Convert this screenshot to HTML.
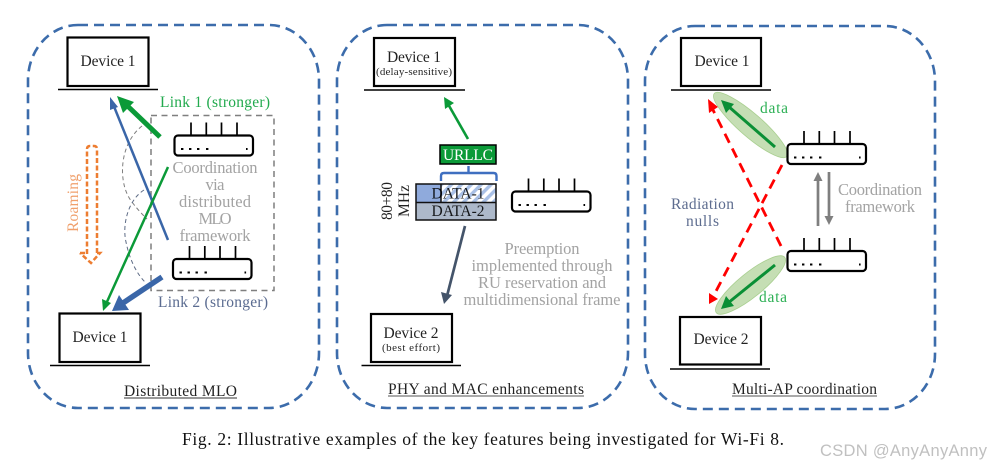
<!DOCTYPE html>
<html><head><meta charset="utf-8">
<style>
html,body{margin:0;padding:0;background:#fff;width:991px;height:467px;overflow:hidden}
svg{display:block}
text{font-family:"Liberation Serif",serif;text-anchor:middle;font-size:15.5px}
.g{fill:#a3a3a3;font-size:16.5px}
.b{fill:#000;fill-opacity:.87}
.s{font-size:11px}
.dev{fill:#fff;stroke:#000;stroke-width:2.2}
.base{stroke:#000;stroke-width:1.5}
.panel{fill:none;stroke:#3c6cab;stroke-width:2.6;stroke-dasharray:10 6}
</style></head><body>
<svg width="991" height="467" viewBox="0 0 991 467" xmlns="http://www.w3.org/2000/svg">
<defs>
<pattern id="h" width="7" height="7" patternUnits="userSpaceOnUse" patternTransform="rotate(-45)">
<rect width="7" height="7" fill="#fff"/><rect width="7" height="3.4" fill="#a9c0e6"/>
</pattern>
<g id="r">
<path d="M17 0V13M32.300 0V13M47.500 0V13M63 0V13" stroke="#000" stroke-width="1.7" fill="none"/>
<rect x="0.500" y="13" width="78.500" height="20" rx="3.500" fill="#fff" stroke="#000" stroke-width="2.200"/>
<path d="M7 26.500h2.400M15 26.500h2.400M23 26.500h2.400M32 26.500h2.400M72 26.500h1.600" stroke="#000" stroke-width="2"/>
</g>
</defs>

<!-- panels -->
<rect class="panel" x="28" y="25" width="291" height="383" rx="50" ry="55"/>
<rect class="panel" x="337" y="25" width="291" height="383" rx="50" ry="55"/>
<rect class="panel" x="645" y="26" width="290" height="383" rx="50" ry="55"/>

<!-- panel 1 -->
<rect class="dev" x="67.500" y="37.500" width="81" height="48.500"/>
<line class="base" x1="58" y1="89.500" x2="158" y2="89.500"/>
<text class="b" x="108" y="66" textLength="55">Device 1</text>
<rect class="dev" x="59.500" y="313.500" width="81" height="48.500"/>
<line class="base" x1="50" y1="365.500" x2="150" y2="365.500"/>
<text class="b" x="100" y="342" textLength="55">Device 1</text>

<rect x="151" y="115.500" width="123" height="175" fill="none" stroke="#7f7f7f" stroke-width="1.500" stroke-dasharray="6 4.500"/>
<path d="M142 126C118 145 118 185 132 202C138 210 142 214 147 219" fill="none" stroke="#7f7f7f" stroke-width="1" stroke-dasharray="4 3"/>
<path d="M144 190C128 200 122 225 126 242C130 262 138 275 145 282" fill="none" stroke="#5d6b85" stroke-width="1" stroke-dasharray="4 3"/>

<use href="#r" x="174" y="122.500"/>
<use href="#r" x="172.500" y="246"/>

<!-- arrows P1 -->
<path d="M160 137L126 104.500" stroke="#0b9a38" stroke-width="5" fill="none"/>
<path d="M117 96L134 102L123 113Z" fill="#0b9a38"/>
<path d="M168 240L113 104" stroke="#3a66a8" stroke-width="2.500" fill="none"/>
<path d="M110 97L118 107L110 110Z" fill="#3a66a8"/>
<path d="M168 167L106 304" stroke="#0b9a38" stroke-width="2.500" fill="none"/>
<path d="M103 311L102 299L111 303Z" fill="#0b9a38"/>
<path d="M162 277L123 303" stroke="#3a66a8" stroke-width="5.500" fill="none"/>
<path d="M112 311L119 295L129 310Z" fill="#3a66a8"/>

<path d="M87 254V149Q87 146 90 146H94Q97 146 97 149V254" fill="none" stroke="#ed7d31" stroke-width="2.500" stroke-dasharray="5 2.500"/>
<path d="M80 253H87M97 253H100L91 263L80 253" fill="none" stroke="#ed7d31" stroke-width="2.500" stroke-dasharray="5 2.500"/>
<text x="0" y="0" transform="translate(78 203) rotate(-90)" fill="#f0a06c" textLength="58">Roaming</text>

<text x="215" y="107" fill="#22aa4e" textLength="110">Link 1 (stronger)</text>
<text x="213" y="307" fill="#5a6b90" textLength="110">Link 2 (stronger)</text>
<text class="g" x="215" y="173" textLength="85">Coordination</text>
<text class="g" x="215" y="190" textLength="19">via</text>
<text class="g" x="215" y="207" textLength="72">distributed</text>
<text class="g" x="215" y="224" textLength="33">MLO</text>
<text class="g" x="215" y="241" textLength="71">framework</text>

<text class="b" x="180.500" y="396" textLength="113">Distributed MLO</text>
<line x1="124" y1="398" x2="237" y2="398" stroke="#333" stroke-width="1"/>

<!-- panel 2 -->
<rect class="dev" x="374" y="38" width="81" height="48"/>
<line class="base" x1="364" y1="90" x2="465" y2="90"/>
<text class="b" x="414" y="62" textLength="54">Device 1</text>
<text class="b s" x="414" y="75" textLength="76">(delay-sensitive)</text>

<path d="M468 139L448 104" stroke="#0b9a38" stroke-width="2.600" fill="none"/>
<path d="M444 97L454 103L445 109Z" fill="#0b9a38"/>

<rect x="440" y="145" width="56" height="19" fill="#0b9a38" stroke="#000" stroke-width="1.500"/>
<text x="468" y="160" fill="#fff" textLength="50">URLLC</text>
<path d="M441 181V176Q441 173 444 173H493.500Q496.500 173 496.500 176V181M468.500 166V173" fill="none" stroke="#3f6fc0" stroke-width="2.400"/>

<rect x="416" y="184" width="25" height="18.500" fill="#8faadc"/>
<rect x="441" y="184" width="55" height="18.500" fill="url(#h)"/>
<rect x="416" y="202.500" width="80" height="17.500" fill="#adb9ca"/>
<path d="M416 184H496V220H416ZM416 202.500H496M441 184V202.500" fill="none" stroke="#111" stroke-width="1.500"/>
<text class="b" x="458" y="198.500" textLength="53">DATA-1</text>
<text class="b" x="458" y="216" textLength="53">DATA-2</text>
<text class="b" x="0" y="0" transform="translate(392 201) rotate(-90)" textLength="38">80+80</text>
<text class="b" x="0" y="0" transform="translate(409 201) rotate(-90)" textLength="32">MHz</text>

<use href="#r" x="511.500" y="178.500"/>

<path d="M465 226L447 296" stroke="#44546a" stroke-width="2.700" fill="none"/>
<path d="M444 304L441 292L452 295Z" fill="#44546a"/>

<text class="g" x="542" y="254" textLength="75">Preemption</text>
<text class="g" x="542" y="271" textLength="141">implemented through</text>
<text class="g" x="542" y="288" textLength="128">RU reservation and</text>
<text class="g" x="542" y="305" textLength="157">multidimensional frame</text>

<rect class="dev" x="371" y="314" width="81" height="48"/>
<line class="base" x1="361.500" y1="365.500" x2="461" y2="365.500"/>
<text class="b" x="411" y="338" textLength="55">Device 2</text>
<text class="b s" x="411" y="351" textLength="58">(best effort)</text>

<text class="b" x="486" y="394" textLength="196">PHY and MAC enhancements</text>
<line x1="388" y1="396" x2="584" y2="396" stroke="#555" stroke-width="1"/>

<!-- panel 3 -->
<rect class="dev" x="681" y="38" width="80" height="48"/>
<line class="base" x1="671" y1="90" x2="771" y2="90"/>
<text class="b" x="722" y="66" textLength="55">Device 1</text>

<ellipse cx="750.500" cy="125" rx="48" ry="11.500" transform="rotate(41 750.500 125)" fill="#c5deb4" stroke="#a9cf90" stroke-width="0.800"/>
<ellipse cx="750.500" cy="285" rx="44" ry="12" transform="rotate(-39 750.500 285)" fill="#c5deb4" stroke="#a9cf90" stroke-width="0.800"/>

<path d="M775 147L728 106" stroke="#0a8f35" stroke-width="3" fill="none"/>
<path d="M721 100L734 104L726 113Z" fill="#0a8f35"/>
<path d="M775 265L728 303" stroke="#0a8f35" stroke-width="3" fill="none"/>
<path d="M721 309L726 296L734 306Z" fill="#0a8f35"/>

<path d="M781 246L711 106" stroke="#ff0000" stroke-width="2.800" stroke-dasharray="10 6.500" fill="none"/>
<path d="M708 99L718 107L709 113Z" fill="#ff0000"/>
<path d="M782 165L714 295" stroke="#ff0000" stroke-width="2.800" stroke-dasharray="10 6.500" fill="none"/>
<path d="M709 304L709 293L718 299Z" fill="#ff0000"/>

<use href="#r" x="787" y="131"/>
<use href="#r" x="787" y="238"/>

<path d="M818 226V180" stroke="#7f7f7f" stroke-width="2.700" fill="none"/>
<path d="M818 172L822.500 181H813.500Z" fill="#7f7f7f"/>
<path d="M829 172V217" stroke="#7f7f7f" stroke-width="2.700" fill="none"/>
<path d="M829 225L824.500 216H833.500Z" fill="#7f7f7f"/>

<text x="774" y="113" fill="#2db055" textLength="28">data</text>
<text x="773" y="302" fill="#2db055" textLength="28">data</text>
<text class="g" x="880" y="195" textLength="84">Coordination</text>
<text class="g" x="880" y="212" textLength="70">framework</text>
<text x="702.500" y="209" fill="#5d6c8f" textLength="63">Radiation</text>
<text x="702.500" y="226" fill="#5d6c8f" textLength="33">nulls</text>

<rect class="dev" x="680" y="317" width="81" height="47.500"/>
<line class="base" x1="670" y1="369" x2="770" y2="369"/>
<text class="b" x="721" y="344" textLength="55">Device 2</text>

<text class="b" x="804.500" y="394" textLength="145">Multi-AP coordination</text>
<line x1="732" y1="396" x2="877" y2="396" stroke="#555" stroke-width="1"/>

<!-- caption -->
<text x="483" y="445" fill="#111" style="font-size:17.5px" textLength="602">Fig. 2: Illustrative examples of the key features being investigated for Wi-Fi 8.</text>
<text x="903.500" y="456" fill="#c0c0c0" style="font-family:'Liberation Sans',sans-serif;font-size:16.500px" textLength="167">CSDN @AnyAnyAnny</text>
</svg>
</body></html>
